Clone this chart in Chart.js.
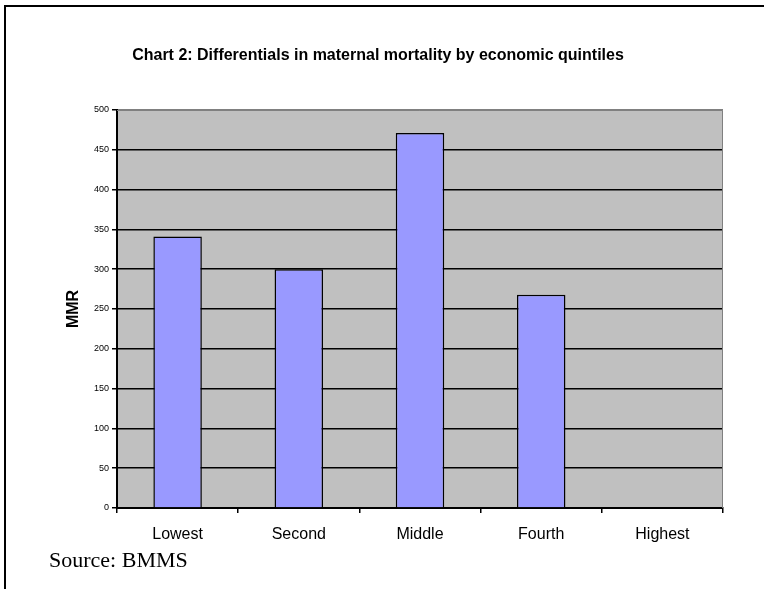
<!DOCTYPE html>
<html>
<head>
<meta charset="utf-8">
<script src="https://cdn.jsdelivr.net/npm/chart.js@4"></script>
<style>
  body { margin: 0; background: #fff; }
  #wrap { width: 764px; height: 589px; }
</style>
</head>
<body>
<div id="wrap"><canvas id="myChart" width="764" height="589"></canvas></div>
<script>
// quintiles and maternal mortality ratio
var quintiles = ['Lowest', 'Second', 'Middle', 'Fourth', 'Highest'];
var mmrValues = [341, 300, 471, 268, null];
var yTicks = [0, 50, 100, 150, 200, 250, 300, 350, 400, 450, 500];

var chartTitle = 'Chart 2: Differentials in maternal mortality by economic quintiles';
var sourceNote = 'Source: BMMS';

// grey plot area, outer frame, title and source line
var framePlugin = {
  id: 'frame',
  beforeDraw: function(chart) {
    var c = chart.ctx, a = chart.chartArea;
    c.save();
    c.fillStyle = '#fff';
    c.fillRect(0, 0, chart.width, chart.height);
    c.fillStyle = '#c0c0c0';
    c.fillRect(a.left, a.top, a.right - a.left, a.bottom - a.top);
    c.strokeStyle = '#000';
    c.lineWidth = 2;
    c.strokeRect(5, 6, chart.width + 20, chart.height + 20);
    c.fillStyle = '#000';
    c.textAlign = 'center';
    c.textBaseline = 'middle';
    c.font = 'bold 16px "Liberation Sans", Arial, sans-serif';
    c.fillText(chartTitle, 378, 56);
    c.textAlign = 'left';
    c.font = '22px "Liberation Serif", "Times New Roman", serif';
    c.fillText(sourceNote, 49, 561);
    c.restore();
  },
  afterDraw: function(chart) {
    var c = chart.ctx, a = chart.chartArea;
    c.save();
    c.strokeStyle = '#808080';
    c.lineWidth = 1;
    c.beginPath();
    c.moveTo(a.left, a.top + 0.5);
    c.lineTo(a.right - 0.5, a.top + 0.5);
    c.lineTo(a.right - 0.5, a.bottom);
    c.stroke();
    c.restore();
  }
};

var ctx = document.getElementById('myChart').getContext('2d');

var myChart = new Chart(ctx, {
  type: 'bar',
  data: {
    labels: quintiles,
    datasets: [{
      label: 'MMR',
      data: mmrValues,
      backgroundColor: '#9999ff',
      borderColor: '#000',
      borderWidth: 1.5,
      categoryPercentage: 1,
      barPercentage: 0.4
    }]
  },
  options: {
    responsive: false,
    animation: false,
    layout: { padding: { left: 64, right: 41, top: 110, bottom: 0 } },
    plugins: {
      legend: { display: false },
      tooltip: { enabled: false }
    },
    scales: {
      x: {
        offset: true,
        grid: {
          offset: true,
          drawOnChartArea: false,
          drawTicks: true,
          tickLength: 5,
          color: '#000',
          lineWidth: 1.5
        },
        border: { color: '#000', width: 2 },
        ticks: {
          padding: 12,
          color: '#000',
          font: { family: '"Liberation Sans", Arial, sans-serif', size: 16 }
        },
        afterFit: function(scale) { scale.height = 81; }
      },
      y: {
        min: 0,
        max: 500,
        afterBuildTicks: function(scale) {
          scale.ticks = yTicks.map(function(v) { return { value: v }; });
        },
        grid: {
          color: function(c) { return c.tick && c.tick.value === 500 ? '#808080' : '#000'; },
          lineWidth: 1.5,
          tickLength: 5,
          tickColor: '#000'
        },
        border: { color: '#000', width: 2 },
        ticks: {
          padding: 3,
          color: '#000',
          font: { family: '"Liberation Sans", Arial, sans-serif', size: 9 }
        },
        title: {
          display: true,
          text: 'MMR',
          color: '#000',
          padding: 0,
          font: { family: '"Liberation Sans", Arial, sans-serif', size: 16, weight: 'bold' }
        },
        afterFit: function(scale) { scale.width = 53; }
      }
    }
  },
  plugins: [framePlugin]
});
</script>
</body>
</html>
